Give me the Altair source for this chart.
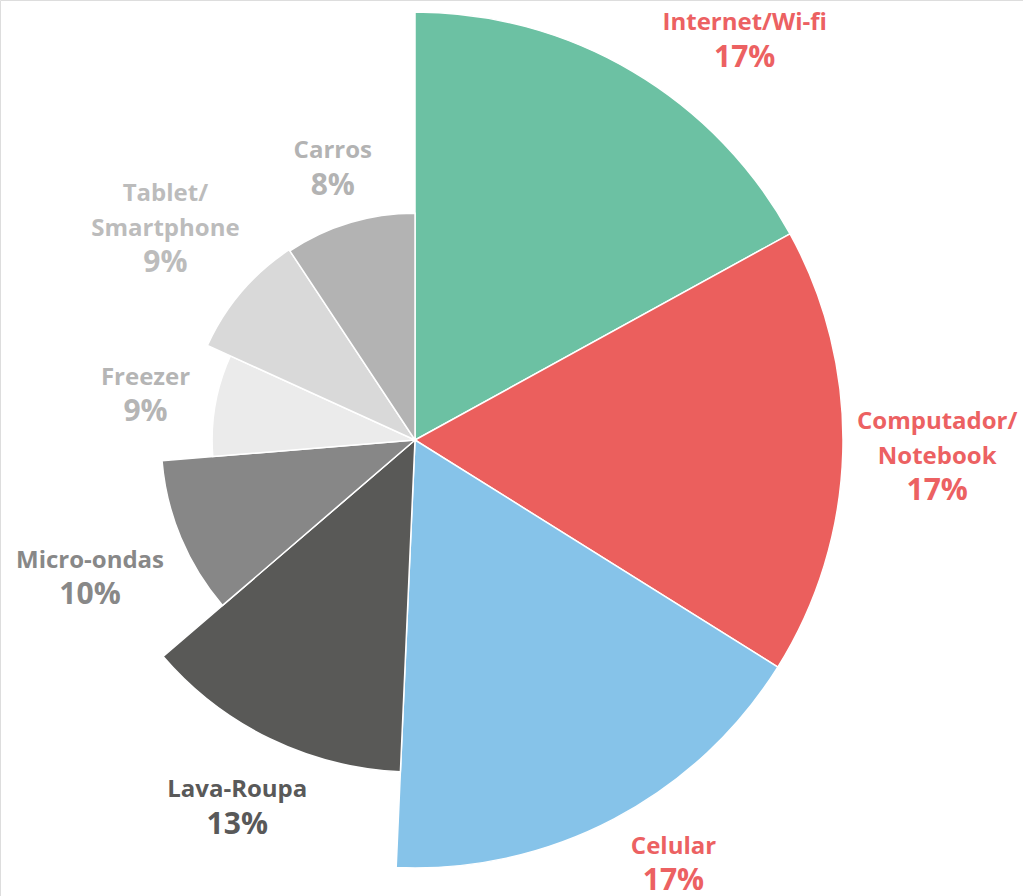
import math
import altair as alt
import pandas as pd

# ---- data ----
categorias = ["Internet/Wi-fi", "Computador/Notebook", "Celular", "Lava-Roupa",
              "Micro-ondas", "Freezer", "Tablet/Smartphone", "Carros"]
nomes_rotulo = [["Internet/Wi-fi"], ["Computador/", "Notebook"], ["Celular"], ["Lava-Roupa"],
                ["Micro-ondas"], ["Freezer"], ["Tablet/", "Smartphone"], ["Carros"]]
percentuais_rotulo = [17, 17, 17, 13, 10, 9, 9, 8]
# share of the full circle taken by each slice
fatias = [17.0, 16.9, 16.8, 13.0, 10.0, 8.1, 8.9, 9.3]
# relative slice radius (largest = 100)
raios = [100, 100, 100, 77.6, 59.3, 47.4, 53.3, 53.0]

cores = ["#6CC1A3", "#EB5F5D", "#86C3E9", "#595957",
         "#878787", "#EBEBEB", "#D9D9D9", "#B3B3B3"]
cores_rotulo = ["#EC6162", "#EC6162", "#EC6162", "#595959",
                "#888888", "#B5B5B5", "#BCBCBC", "#B3B3B3"]

# ---- layout constants ----
W, H = 1023, 896
CX, CY = 415, 440
RMAX = 428
GAP = 20
CHAR_W = 13.3
LINE_H = 34.5
TOP, BOTTOM, LEFT, RIGHT = 10, 890, 12, 1016

df = pd.DataFrame({
    "categoria": categorias,
    "fatia": fatias,
    "raio": raios,
    "ordem": list(range(len(categorias))),
})

# label placement: outside each slice, along its mid-angle, kept inside the canvas
linhas_rot = []
acum = 0.0
for i, cat in enumerate(categorias):
    mid = acum + fatias[i] / 2
    acum += fatias[i]
    th = mid / 100 * 2 * math.pi
    s, c = math.sin(th), math.cos(th)
    R = raios[i] / 100 * RMAX
    linhas = nomes_rotulo[i] + [f"{percentuais_rotulo[i]}%"]
    m = len(linhas)
    hw = max(len(l) for l in nomes_rotulo[i]) * CHAR_W / 2
    hh = (m - 1) * LINE_H / 2 + 11
    d = R + GAP + hw * abs(s) + hh * abs(c)
    bx = CX + d * s
    by = CY - d * c
    # keep the block inside the canvas (vertical: slide along the circle)
    if by - hh < TOP or by + hh > BOTTOM:
        by = TOP + hh if by - hh < TOP else BOTTOM - hh
        ddy = by - CY
        bx = CX + math.copysign(math.sqrt(max(d * d - ddy * ddy, 0)), s)
    bx = min(max(bx, LEFT + hw), RIGHT - hw)
    for k, texto in enumerate(linhas):
        ly = by + (k - (m - 1) / 2) * LINE_H
        dx, dy = bx - CX, ly - CY
        r = math.hypot(dx, dy)
        ang = math.atan2(dx, -dy) % (2 * math.pi)
        linhas_rot.append({
            "categoria": cat,
            "texto": texto,
            "tipo": "pct" if k == m - 1 else "nome",
            "theta_rotulo": ang / (2 * math.pi) * 100,
            "raio_rotulo": r / RMAX * 100,
        })
df_rot = pd.DataFrame(linhas_rot)

theta_scale = alt.Scale(domain=[0, 100], range=[0, 2 * math.pi])
radius_scale = alt.Scale(type="linear", domain=[0, 100], range=[0, RMAX], zero=True)

arcos = alt.Chart(df).transform_window(
    fim="sum(fatia)", sort=[alt.SortField("ordem")], frame=[None, 0]
).transform_calculate(
    inicio="datum.fim - datum.fatia"
).mark_arc(stroke="white", strokeWidth=1.5).encode(
    theta=alt.Theta("inicio:Q", stack=None, scale=theta_scale),
    theta2="fim:Q",
    radius=alt.Radius("raio:Q", scale=radius_scale),
    color=alt.Color("categoria:N", scale=alt.Scale(domain=categorias, range=cores), legend=None),
    x=alt.value(CX),
    y=alt.value(CY),
)

cor_rot = alt.Color("categoria:N", scale=alt.Scale(domain=categorias, range=cores_rotulo), legend=None)

base_rot = alt.Chart(df_rot).encode(
    theta=alt.Theta("theta_rotulo:Q", stack=None, scale=theta_scale),
    radius=alt.Radius("raio_rotulo:Q", scale=radius_scale),
    text="texto:N",
    color=cor_rot,
    x=alt.value(CX),
    y=alt.value(CY),
)

nomes = base_rot.transform_filter(alt.datum.tipo == "nome").mark_text(
    font="Open Sans", fontWeight="bold", fontSize=24, align="center",
    baseline="middle", dy=2,
)

pcts = base_rot.transform_filter(alt.datum.tipo == "pct").mark_text(
    font="Open Sans", fontWeight="bold", fontSize=30, align="center",
    baseline="middle", dy=2,
)

chart = alt.layer(arcos, nomes, pcts).resolve_scale(color="independent").properties(
    width=W, height=H, padding=0,
    autosize=alt.AutoSizeParams(type="none"),
).configure_view(stroke=None).configure(background="white")

chart.save("out.html", embed_options={"renderer": "svg", "actions": False})
